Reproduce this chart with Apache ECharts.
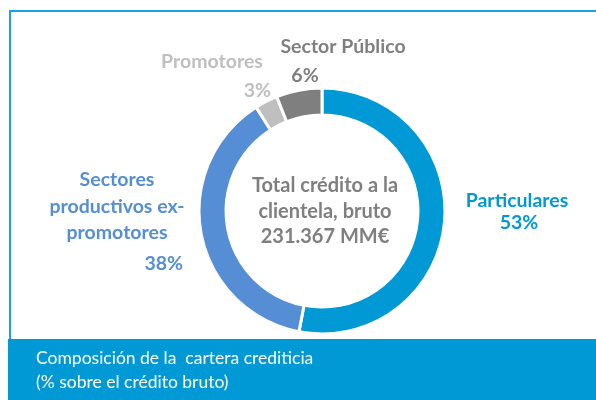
<!DOCTYPE html>
<html>
<head>
<meta charset="utf-8">
<script src="https://cdn.jsdelivr.net/npm/echarts@6/dist/echarts.min.js"></script>
<style>
  html, body { margin: 0; padding: 0; background: #fff; }
  #chart { width: 596px; height: 400px; }
</style>
</head>
<body>
<div id="chart"></div>
<script>
// composición de la cartera crediticia (% sobre crédito bruto)
const names = ['Particulares', 'Sectores productivos ex-promotores', 'Promotores', 'Sector Público']
const labelLines = [['Particulares'], ['Sectores', 'productivos ex-', 'promotores'], ['Promotores'], ['Sector Público']]
const values = [53, 38, 3, 6]
const colors = ['#0099d6', '#558ed5', '#bfbfbf', '#7f7f7f']
const centerLines = ['Total crédito a la', 'clientela, bruto', '231.367 MM€']
const footerLines = ['Composición de la  cartera crediticia', '(% sobre el crédito bruto)']

const FONT = 'Lato, "Open Sans", sans-serif'
const CX = 322, CY = 211

// where each slice's name / percentage sits
const layout = [
  { name: [517, 201], pct: [519, 223], align: 'center', pctAlign: 'center' },
  { name: [117, 180], pct: [183, 264], align: 'center', pctAlign: 'right' },
  { name: [212, 62], pct: [271, 91], align: 'center', pctAlign: 'right' },
  { name: [343, 47], pct: [305, 76], align: 'center', pctAlign: 'center' },
]

const chart = echarts.init(document.getElementById('chart'))

const graphics = [
  {
    type: 'rect', z: 0,
    shape: { x: 10, y: 11, width: 600, height: 340 },
    style: { fill: 'none', stroke: '#1aa3e3', lineWidth: 2 },
  },
  {
    type: 'rect', z: 1,
    shape: { x: 8, y: 339, width: 600, height: 70, r: [0, 0, 0, 9] },
    style: { fill: '#0099d6' },
  },
]

footerLines.forEach((t, i) => {
  graphics.push({
    type: 'text', z: 2, x: 36, y: 358 + i * 24,
    style: { text: t, fill: '#fff', font: '17.5px ' + FONT, verticalAlign: 'middle' },
  })
})

centerLines.forEach((t, i) => {
  graphics.push({
    type: 'text', z: 2, x: CX + 3, y: 186 + i * 25.5,
    style: { text: t, fill: '#7f7f7f', font: 'bold 20px ' + FONT, align: 'center', verticalAlign: 'middle' },
  })
})

values.forEach((v, i) => {
  const L = layout[i]
  labelLines[i].forEach((t, j) => {
    graphics.push({
      type: 'text', z: 2, x: L.name[0], y: L.name[1] + j * 26.5,
      style: { text: t, fill: colors[i], font: 'bold 19.5px ' + FONT, align: L.align, verticalAlign: 'middle' },
    })
  })
  graphics.push({
    type: 'text', z: 2, x: L.pct[0], y: L.pct[1],
    style: { text: v + '%', fill: colors[i], font: 'bold 19.5px ' + FONT, align: L.pctAlign, verticalAlign: 'middle' },
  })
})

chart.setOption({
  animation: false,
  graphic: graphics,
  series: [
    {
      type: 'pie',
      center: [CX, CY],
      radius: [96, 123],
      startAngle: 90,
      clockwise: true,
      label: { show: false },
      labelLine: { show: false },
      itemStyle: { borderColor: '#fff', borderWidth: 3 },
      emphasis: { disabled: true },
      data: values.map((v, i) => ({ name: names[i], value: v, itemStyle: { color: colors[i] } })),
    },
  ],
})
</script>
</body>
</html>
